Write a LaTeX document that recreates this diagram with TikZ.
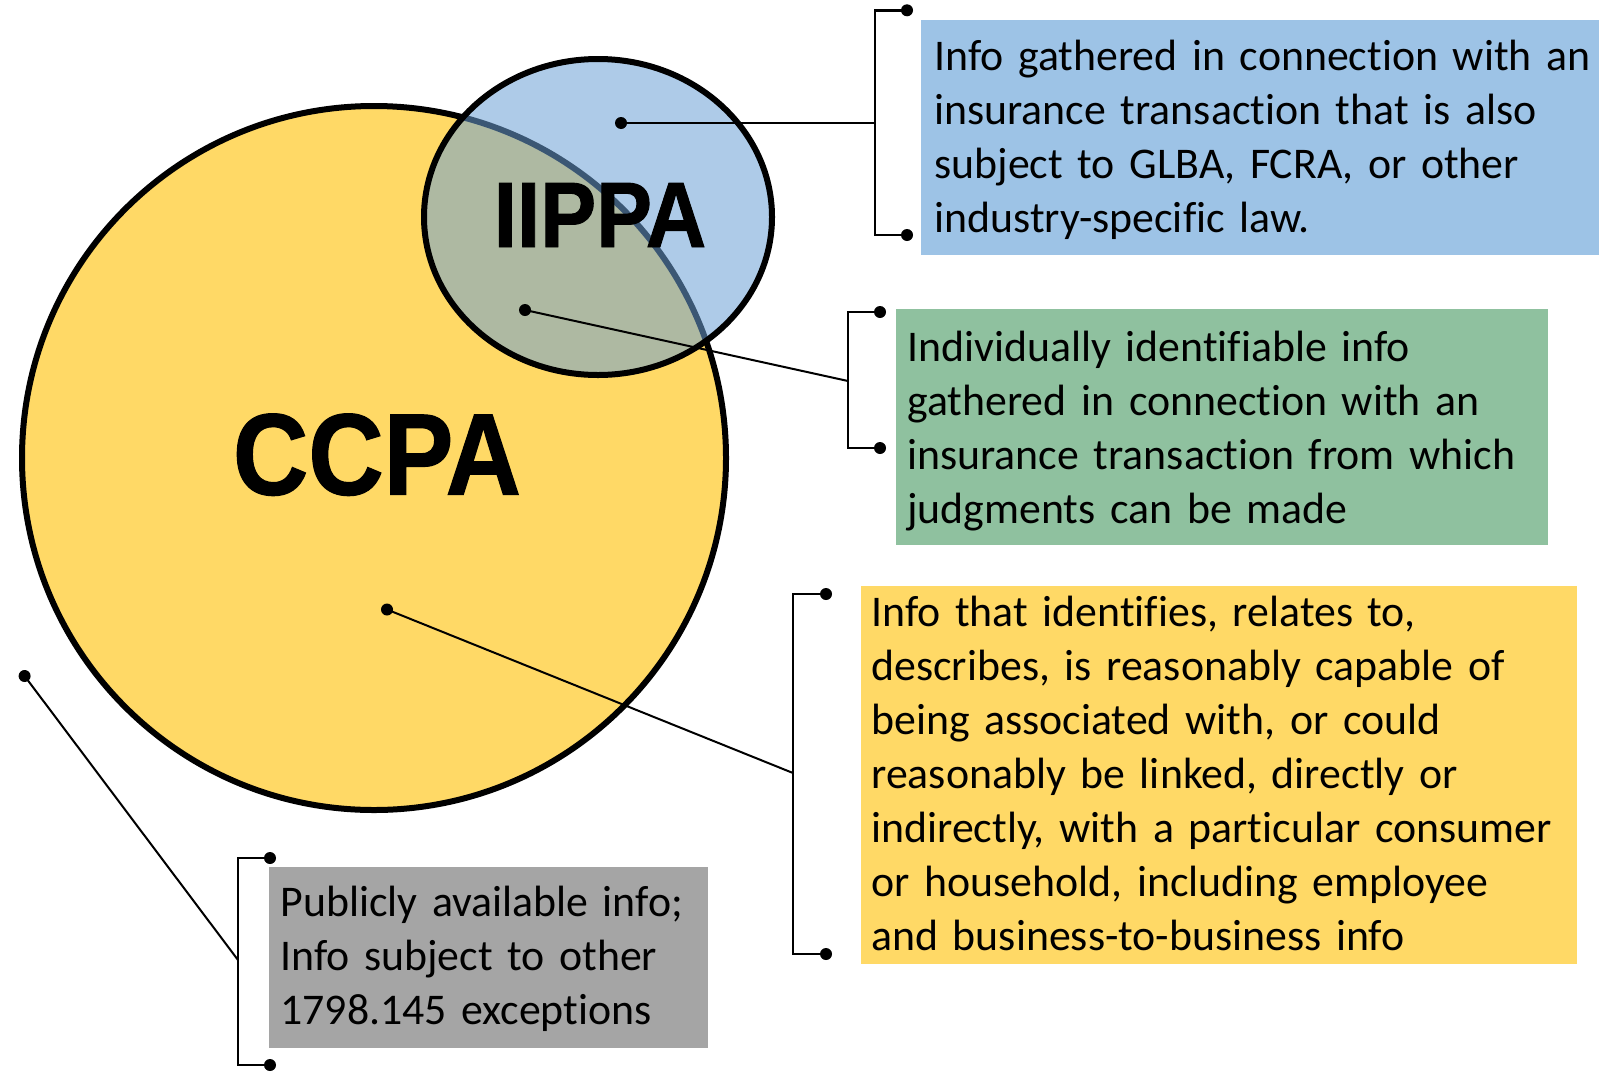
\documentclass[tikz,border=0pt]{standalone}
\usepackage{fontspec}
\setmainfont{Carlito}[Ligatures=NoCommon]
\newfontfamily\lblfont[FakeStretch=0.9,FakeBold=1]{Liberation Sans}
\definecolor{ccpayellow}{HTML}{FFD966}
\definecolor{iippablue}{HTML}{6CA0D5}
\definecolor{boxblue}{HTML}{9DC3E6}
\definecolor{boxgreen}{HTML}{8FC19F}
\definecolor{boxyellow}{HTML}{FFD966}
\definecolor{boxgray}{HTML}{A5A5A5}
\begin{document}
\begin{tikzpicture}[x=0.5pt,y=-0.5pt,
  box/.style={draw=none, inner sep=0pt, anchor=north west, rectangle},
  txt/.style={anchor=base west, inner sep=0pt, text width=#1, align=left,
    font=\fontsize{21.9pt}{27pt}\selectfont},
  dot/.style={circle, fill=black, inner sep=0pt, minimum size=6pt},
  conn/.style={line width=1pt},
  brk/.style={line width=1.2pt},
  biglbl/.style={anchor=base, inner sep=0pt, font=\lblfont\bfseries\fontsize{#1}{#1}\selectfont},
]
\useasboundingbox (0,0) rectangle (1609,1071);

% circles
\draw[line width=3pt, fill=ccpayellow] (374,458) circle [radius=352];
\fill[iippablue, fill opacity=0.55] (598,217) ellipse [x radius=174, y radius=158];
\draw[line width=3pt] (598,217) ellipse [x radius=174, y radius=158];

\node[biglbl=58pt] (ccpa) at (377,494.6) {CCPA};
\node[biglbl=46.5pt] (iippa) at (600,247) {IIPPA};

% boxes
\node[box, fill=boxblue, minimum width=339pt, minimum height=117.5pt] (bluebox) at (921,19.5) {};
\node[box, fill=boxgreen, minimum width=326pt, minimum height=118pt] (greenbox) at (896,309) {};
\node[box, fill=boxyellow, minimum width=358pt, minimum height=188.75pt] (yellowbox) at (861,586) {};
\node[box, fill=boxgray, minimum width=219.5pt, minimum height=90.5pt] (graybox) at (269,867) {};

\node[txt=400pt] (bluetxt) at (934,70) {Info gathered in connection with an\\insurance transaction that is also\\subject to GLBA, FCRA, or other\\industry-specific law.};
\node[txt=400pt] (greentxt) at (907,361) {Individually identifiable info\\gathered in connection with an\\insurance transaction from which\\judgments can be made};
\node[txt=400pt] (yellowtxt) at (871,626) {Info that identifies, relates to,\\describes, is reasonably capable of\\being associated with, or could\\reasonably be linked, directly or\\indirectly, with a particular consumer\\or household, including employee\\and business-to-business info};
\node[txt=300pt] (graytxt) at (280,916) {Publicly available info;\\Info subject to other\\1798.145 exceptions};

% pointer dots
\node[dot] (pblue) at (621,123) {};
\node[dot] (pgreen) at (525,310) {};
\node[dot] (pyellow) at (387,609.5) {};
\node[dot] (pgray) at (24.6,676) {};

% bracket end dots
\node[dot] (bluetop) at (907,10.3) {};
\node[dot] (bluebot) at (907,235) {};
\node[dot] (greentop) at (880,312) {};
\node[dot] (greenbot) at (880,448) {};
\node[dot] (yellowtop) at (826,594) {};
\node[dot] (yellowbot) at (826,954) {};
\node[dot] (graytop) at (270,858) {};
\node[dot] (graybot) at (270,1065) {};

% bracket attach points
\coordinate (bkblue) at (875,123);
\coordinate (bkgreen) at (848,381);
\coordinate (bkyellow) at (793,773);
\coordinate (bkgray) at (238,960);

% brackets
\draw[brk] (bluetop.center) -| (bkblue) |- (bluebot.center);
\draw[brk] (greentop.center) -| (bkgreen) |- (greenbot.center);
\draw[brk] (yellowtop.center) -| (bkyellow) |- (yellowbot.center);
\draw[brk] (graytop.center) -| (bkgray) |- (graybot.center);

% connectors
\draw[conn] (pblue.center) -- (bkblue);
\draw[conn] (pgreen.center) -- (bkgreen);
\draw[conn] (pyellow.center) -- (bkyellow);
\draw[conn] (pgray.center) -- (bkgray);
\end{tikzpicture}
\end{document}
